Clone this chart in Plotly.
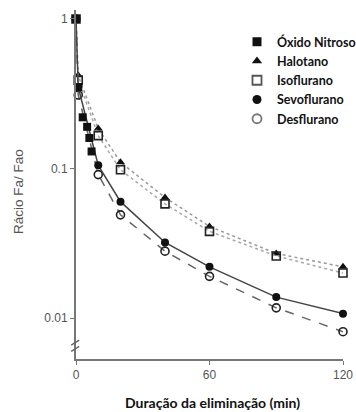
import plotly.graph_objects as go

# Elimination of inhaled anaesthetics: alveolar fraction ratio Fa/Fao over time (min)
t_n2o = [0, 1, 3, 5, 6, 7]
n2o = [1.0, 0.35, 0.22, 0.19, 0.16, 0.13]

t_vol = [0, 1, 10, 20, 40, 60, 90, 120]
halotano = [1.0, 0.42, 0.185, 0.11, 0.064, 0.041, 0.027, 0.022]
isoflurano = [1.0, 0.39, 0.166, 0.098, 0.058, 0.038, 0.026, 0.020]
sevoflurano = [1.0, 0.35, 0.105, 0.060, 0.032, 0.022, 0.0138, 0.0107]
desflurano = [1.0, 0.31, 0.091, 0.049, 0.028, 0.019, 0.0117, 0.0081]

x_ticks = [0, 60, 120]
y_ticks = [0.01, 0.1, 1]
y_tick_text = ["0.01", "0.1", "1"]

styles = {
    "Óxido Nitroso": dict(symbol="square", size=9, color="#111"),
    "Halotano": dict(symbol="triangle-up", size=9, color="#111"),
    "Isoflurano": dict(symbol="square-open", size=9, color="#555", line=dict(width=1.8)),
    "Sevoflurano": dict(symbol="circle", size=9, color="#111"),
    "Desflurano": dict(symbol="circle-open", size=9, color="#777", line=dict(width=1.8)),
}

fig = go.Figure()

series = [
    ("Halotano", t_vol, halotano, dict(color="#9a9a9a", width=1.5, dash="dot"), "lines+markers"),
    ("Isoflurano", t_vol, isoflurano, dict(color="#a8a8a8", width=1.5, dash="dot"), "lines+markers"),
    ("Desflurano", t_vol, desflurano, dict(color="#666", width=1.5, dash="dash"), "lines+markers"),
    ("Sevoflurano", t_vol, sevoflurano, dict(color="#444", width=1.5), "lines+markers"),
    ("Óxido Nitroso", t_n2o, n2o, None, "markers"),
]
for name, xs, ys, line, mode in series:
    mk = dict(styles[name])
    mk["size"] = 8
    if name in ("Isoflurano", "Desflurano"):
        mk["color"] = "#222"
        mk["line"] = dict(width=1.6)
    fig.add_trace(go.Scatter(
        x=xs, y=ys, name=name, mode=mode, line=line, marker=mk,
        legendgroup=name, showlegend=False, cliponaxis=False,
    ))

# Marker-only legend entries
for rank, name in enumerate(["Óxido Nitroso", "Halotano", "Isoflurano", "Sevoflurano", "Desflurano"]):
    fig.add_trace(go.Scatter(
        x=[None], y=[None], name=name, mode="markers", marker=styles[name],
        legendgroup=name, showlegend=True, legendrank=rank + 1,
    ))

# Axis break marks on the y axis
for y0 in (0.022, 0.040):
    fig.add_shape(type="line", xref="x domain", yref="y domain",
                  x0=-0.018, x1=0.012, y0=y0, y1=y0 + 0.014,
                  line=dict(color="#666", width=1.5))

# Axis titles
fig.add_annotation(
    text="Rácio Fa/ Fao", xref="paper", yref="paper", x=-0.215, y=0.48,
    textangle=-90, showarrow=False, xanchor="center", yanchor="middle",
    font=dict(family="Liberation Sans", size=13.5, color="#555"),
)
fig.add_annotation(
    text="Duração da eliminação (min)", xref="paper", yref="paper", x=0.51, y=-0.124,
    showarrow=False, xanchor="center", yanchor="middle",
    font=dict(family="Lato", size=14, color="#111", weight="bold"),
)

fig.update_layout(
    width=356, height=412,
    margin=dict(l=76, r=13, t=10, b=53, autoexpand=False),
    paper_bgcolor="white", plot_bgcolor="white",
    showlegend=True,
    legend=dict(
        x=0.603, y=0.951, xanchor="left", yanchor="top",
        traceorder="normal",
        font=dict(family="Lato", size=12.5, color="#111", weight="bold"),
        bgcolor="rgba(0,0,0,0)", itemwidth=30, tracegroupgap=0,
    ),
    xaxis=dict(
        range=[0, 120], tickvals=x_ticks, showgrid=False, zeroline=False,
        showline=True, linecolor="#777", linewidth=2, automargin=False,
        ticks="outside", ticklen=4, tickcolor="#777",
        tickfont=dict(family="Liberation Sans", size=12, color="#555"),
    ),
    yaxis=dict(
        type="log", range=[-2.274, 0.06], tickvals=y_ticks, ticktext=y_tick_text,
        showgrid=False, zeroline=False, automargin=False,
        showline=True, linecolor="#777", linewidth=2,
        ticks="outside", ticklen=4, tickcolor="#777",
        tickfont=dict(family="Liberation Sans", size=12, color="#555"),
    ),
)

fig.write_html("out.html")
